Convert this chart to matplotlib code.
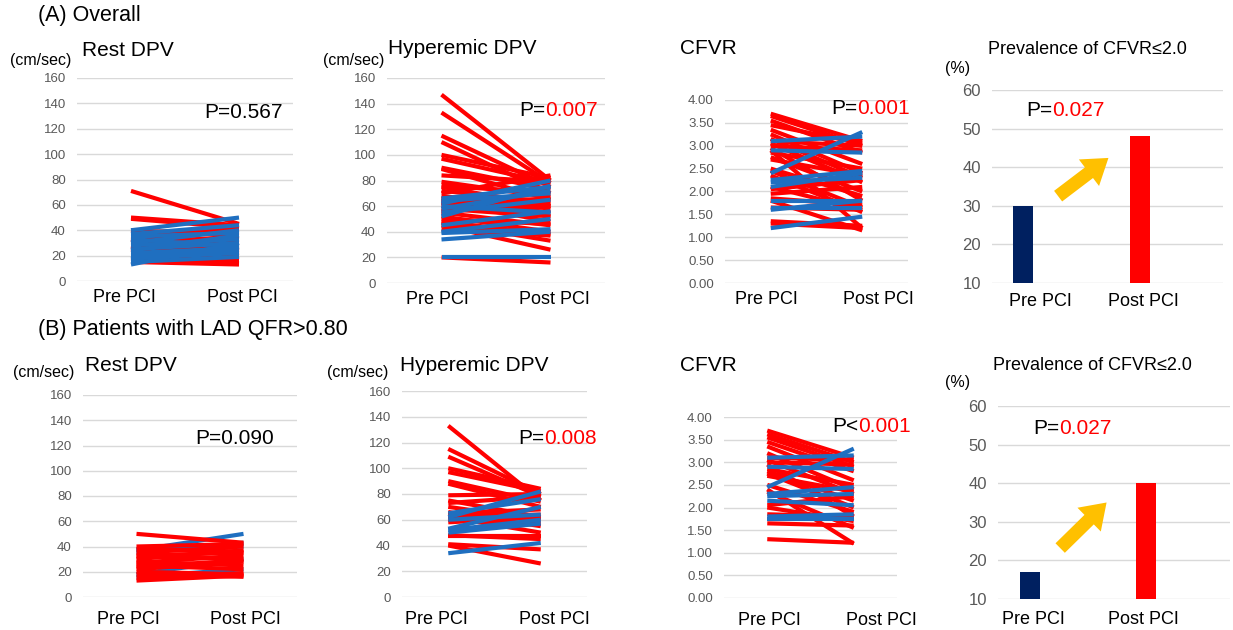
import matplotlib
matplotlib.use("Agg")
import matplotlib.pyplot as plt
from matplotlib.ticker import FixedLocator

W, H = 1233, 630
FONT = ['Liberation Sans', 'DejaVu Sans']
plt.rcParams['font.family'] = FONT

RED = '#FF0000'
BLUE = '#1F6FC0'
NAVY = '#002060'
GOLD = '#FFC000'
GRAY = '#595959'
GRID = '#D9D9D9'

categories = ['Pre PCI', 'Post PCI']

# ---------------- (A) Overall ----------------
a_rest_red_pre = [71, 50, 49, 40, 35, 33, 30, 28, 25, 22, 20, 18, 16, 15, 32, 38, 27, 23]
a_rest_red_post = [45, 44, 42, 36, 30, 24, 35, 20, 22, 25, 18, 14, 16, 13, 33, 41, 17, 28]
a_rest_blue_pre = [40, 37, 35, 30, 28, 25, 22, 20, 18, 15, 13, 24, 33, 17]
a_rest_blue_post = [50, 44, 38, 40, 33, 30, 26, 24, 22, 19, 30, 36, 27, 27]

a_hyp_red_pre = [147, 133, 115, 110, 100, 97, 90, 89, 84, 79, 76, 75, 72, 68, 65, 63, 60, 58, 55, 52,
                 50, 48, 47, 45, 42, 20, 70, 62, 56, 66]
a_hyp_red_post = [80, 78, 75, 70, 82, 78, 73, 65, 79, 67, 70, 60, 63, 58, 55, 48, 62, 52, 45, 40,
                  46, 38, 33, 26, 37, 16, 84, 66, 60, 52]
a_hyp_blue_pre = [62, 66, 58, 55, 60, 40, 39, 34, 20, 64, 52, 45]
a_hyp_blue_post = [80, 75, 72, 65, 55, 50, 42, 40, 20, 70, 76, 56]

a_cfvr_red_pre = [3.70, 3.65, 3.55, 3.45, 3.35, 3.25, 3.15, 3.10, 3.05, 3.00, 2.95, 2.85, 2.75, 2.70,
                  2.50, 2.35, 2.10, 2.05, 1.95, 1.85, 1.80, 1.65, 1.30, 1.35, 2.45, 2.90]
a_cfvr_red_post = [3.10, 3.00, 2.85, 3.05, 2.60, 2.40, 2.30, 3.00, 2.20, 2.90, 1.80, 2.50, 2.00, 2.35,
                   1.90, 1.55, 1.60, 2.25, 2.10, 1.70, 1.15, 1.60, 1.20, 1.25, 1.65, 1.20]
a_cfvr_blue_pre = [2.40, 3.10, 2.25, 2.20, 2.10, 1.80, 1.65, 1.60, 1.20, 2.90]
a_cfvr_blue_post = [3.30, 3.20, 2.45, 2.30, 2.40, 1.80, 1.65, 1.80, 1.45, 2.85]

a_prev = [30, 48]

# ---------------- (B) LAD QFR>0.80 ----------------
b_rest_red_pre = [50, 40, 38, 35, 32, 30, 28, 27, 25, 22, 20, 18, 15, 13, 33, 24]
b_rest_red_post = [43, 42, 36, 40, 30, 37, 25, 33, 22, 28, 18, 16, 19, 17, 35, 29]
b_rest_blue_pre = [37, 35, 18, 16, 38]
b_rest_blue_post = [50, 43, 30, 22, 40]

b_hyp_red_pre = [133, 115, 109, 100, 97, 90, 88, 79, 75, 73, 70, 66, 65, 62, 60, 48, 47, 41, 40, 63, 58]
b_hyp_red_post = [75, 80, 78, 84, 82, 74, 70, 80, 62, 78, 60, 55, 68, 50, 57, 45, 47, 37, 26, 64, 62]
b_hyp_blue_pre = [62, 65, 53, 52, 50, 34, 60]
b_hyp_blue_post = [82, 76, 70, 60, 57, 42, 64]

b_cfvr_red_pre = [3.70, 3.62, 3.55, 3.45, 3.35, 3.20, 3.10, 3.05, 3.00, 2.95, 2.85, 2.75, 2.70, 2.50,
                  2.35, 2.05, 2.00, 1.85, 1.65, 1.30, 2.40, 2.80]
b_cfvr_red_post = [3.10, 3.00, 2.90, 2.80, 2.60, 2.40, 3.05, 2.30, 2.95, 1.80, 2.50, 2.00, 2.35, 1.90,
                   1.55, 2.25, 1.70, 1.80, 1.60, 1.22, 1.20, 2.15]
b_cfvr_blue_pre = [2.45, 3.10, 2.30, 2.25, 2.15, 1.80, 1.75, 2.90]
b_cfvr_blue_post = [3.30, 3.15, 2.45, 2.30, 2.05, 1.85, 1.75, 2.85]

b_prev = [17, 40]

dpv_ticks = [0, 20, 40, 60, 80, 100, 120, 140, 160]
cfvr_ticks = [0.0, 0.5, 1.0, 1.5, 2.0, 2.5, 3.0, 3.5, 4.0]
prev_ticks = [10, 20, 30, 40, 50, 60]

fig = plt.figure(figsize=(W / 100, H / 100), dpi=100)
fig.patch.set_facecolor('white')


def px_axes(x0, x1, ytop, ybot):
    return fig.add_axes([x0 / W, 1 - ybot / H, (x1 - x0) / W, (ybot - ytop) / H])


def ftext(x, y, s, size, color='black', ha='left', va='center'):
    return fig.text(x / W, 1 - y / H, s, fontsize=size, color=color, ha=ha, va=va, family=FONT)


def ptext(x, y, prefix, value, size, value_color):
    t = ftext(x, y, prefix, size)
    fig.canvas.draw()
    bb = t.get_window_extent(renderer=fig.canvas.get_renderer())
    ftext(bb.x1, y, value, size, color=value_color)


def style_axes(ax, ticks, ylim, fmt, tick_size, xlabel_size, xlim=(-0.5, 1.5), xticks=(0, 1), xpad=6):
    ax.set_ylim(*ylim)
    ax.set_xlim(*xlim)
    ax.yaxis.set_major_locator(FixedLocator(ticks))
    ax.set_yticklabels([fmt.format(t) for t in ticks])
    ax.set_xticks(list(xticks))
    ax.set_xticklabels(categories)
    for s in ax.spines.values():
        s.set_visible(False)
    ax.grid(axis='y', color=GRID, lw=1.0)
    ax.set_axisbelow(True)
    ax.tick_params(axis='both', length=0)
    ax.tick_params(axis='y', labelsize=tick_size, labelcolor=GRAY, pad=8)
    ax.tick_params(axis='x', labelsize=xlabel_size, labelcolor='black', pad=xpad)
    for lab in ax.get_xticklabels() + ax.get_yticklabels():
        lab.set_family(FONT)


def draw_pairs(ax, pre, post, color):
    for a, b in zip(pre, post):
        ax.plot([0, 1], [a, b], color=color, lw=3.0, solid_capstyle='butt')


def line_panel(ax, rp, rq, bp, bq, ticks, ylim, fmt, xticks, xpad, blue_first=False):
    if blue_first:
        draw_pairs(ax, bp, bq, BLUE)
        draw_pairs(ax, rp, rq, RED)
    else:
        draw_pairs(ax, rp, rq, RED)
        draw_pairs(ax, bp, bq, BLUE)
    style_axes(ax, ticks, ylim, fmt, 9.5, 13, xticks=xticks, xpad=xpad)


ARROW = dict(arrowstyle='simple,head_length=1.1,head_width=1.5,tail_width=0.6',
             color=GOLD, shrinkA=0, shrinkB=0, mutation_scale=16, lw=0)

# ---- section titles ----
ftext(38, 16, '(A) Overall', 15.5)
ftext(38, 329, '(B) Patients with LAD QFR>0.80', 15.5)

# ---- Row A ----
ax = px_axes(77, 293, 78, 281)
line_panel(ax, a_rest_red_pre, a_rest_red_post, a_rest_blue_pre, a_rest_blue_post,
           dpv_ticks, (0, 160), '{:.0f}', xticks=(-0.06, 1.03), xpad=6)
ftext(82, 50, 'Rest DPV', 15)
ftext(10, 61, '(cm/sec)', 11.5)
ftext(204, 113, 'P=0.567', 15)

ax = px_axes(387, 605, 78, 283)
line_panel(ax, a_hyp_red_pre, a_hyp_red_post, a_hyp_blue_pre, a_hyp_blue_post,
           dpv_ticks, (0, 160), '{:.0f}', xticks=(-0.04, 1.04), xpad=6)
ftext(388, 48, 'Hyperemic DPV', 15)
ftext(323, 61, '(cm/sec)', 11.5)
ptext(519, 110, 'P=', '0.007', 15, RED)

ax = px_axes(725, 908, 100, 283)
line_panel(ax, a_cfvr_red_pre, a_cfvr_red_post, a_cfvr_blue_pre, a_cfvr_blue_post,
           cfvr_ticks, (0, 4), '{:.2f}', xticks=(-0.05, 1.18), xpad=6)
ftext(680, 48, 'CFVR', 15)
ptext(831, 109, 'P=', '0.001', 15, RED)

ax = px_axes(992, 1223, 90, 283)
ax.bar([0, 1], [v - 10 for v in a_prev], bottom=10, width=0.17, color=[NAVY, RED])
style_axes(ax, prev_ticks, (10, 60), '{:.0f}', 12, 13, xlim=(-0.265, 1.709), xticks=(0.15, 1.03), xpad=7)
ax.annotate('', xy=(0.73, 42.4), xytext=(0.30, 32.5), arrowprops=ARROW)
ftext(988, 50, 'Prevalence of CFVR≤2.0', 13)
ftext(945, 69, '(%)', 11.5)
ptext(1026, 110, 'P=', '0.027', 15, RED)

# ---- Row B ----
ax = px_axes(83, 297, 395, 597)
line_panel(ax, b_rest_red_pre, b_rest_red_post, b_rest_blue_pre, b_rest_blue_post,
           dpv_ticks, (0, 160), '{:.0f}', xticks=(-0.08, 1.02), xpad=10, blue_first=True)
ftext(85, 365, 'Rest DPV', 15)
ftext(13, 373, '(cm/sec)', 11.5)
ftext(195, 439, 'P=0.090', 15)

ax = px_axes(402, 587, 391, 597)
line_panel(ax, b_hyp_red_pre, b_hyp_red_post, b_hyp_blue_pre, b_hyp_blue_post,
           dpv_ticks, (0, 160), '{:.0f}', xticks=(-0.13, 1.15), xpad=10)
ftext(400, 365, 'Hyperemic DPV', 15)
ftext(327, 373, '(cm/sec)', 11.5)
ptext(518, 438, 'P=', '0.008', 15, RED)

ax = px_axes(724, 897, 417, 598)
line_panel(ax, b_cfvr_red_pre, b_cfvr_red_post, b_cfvr_blue_pre, b_cfvr_blue_post,
           cfvr_ticks, (0, 4), '{:.2f}', xticks=(0.03, 1.32), xpad=10)
ftext(680, 365, 'CFVR', 15)
ptext(832, 427, 'P<', '0.001', 15, RED)

ax = px_axes(998, 1230, 406, 599)
ax.bar([0, 1], [v - 10 for v in b_prev], bottom=10, width=0.17, color=[NAVY, RED])
style_axes(ax, prev_ticks, (10, 60), '{:.0f}', 12, 13, xlim=(-0.276, 1.724), xticks=(0.03, 0.98), xpad=9)
ax.annotate('', xy=(0.66, 35.0), xytext=(0.26, 23.2), arrowprops=ARROW)
ftext(993, 365, 'Prevalence of CFVR≤2.0', 13)
ftext(945, 383, '(%)', 11.5)
ptext(1033, 429, 'P=', '0.027', 15, RED)

fig.savefig('out.png', dpi=100, facecolor='white')
